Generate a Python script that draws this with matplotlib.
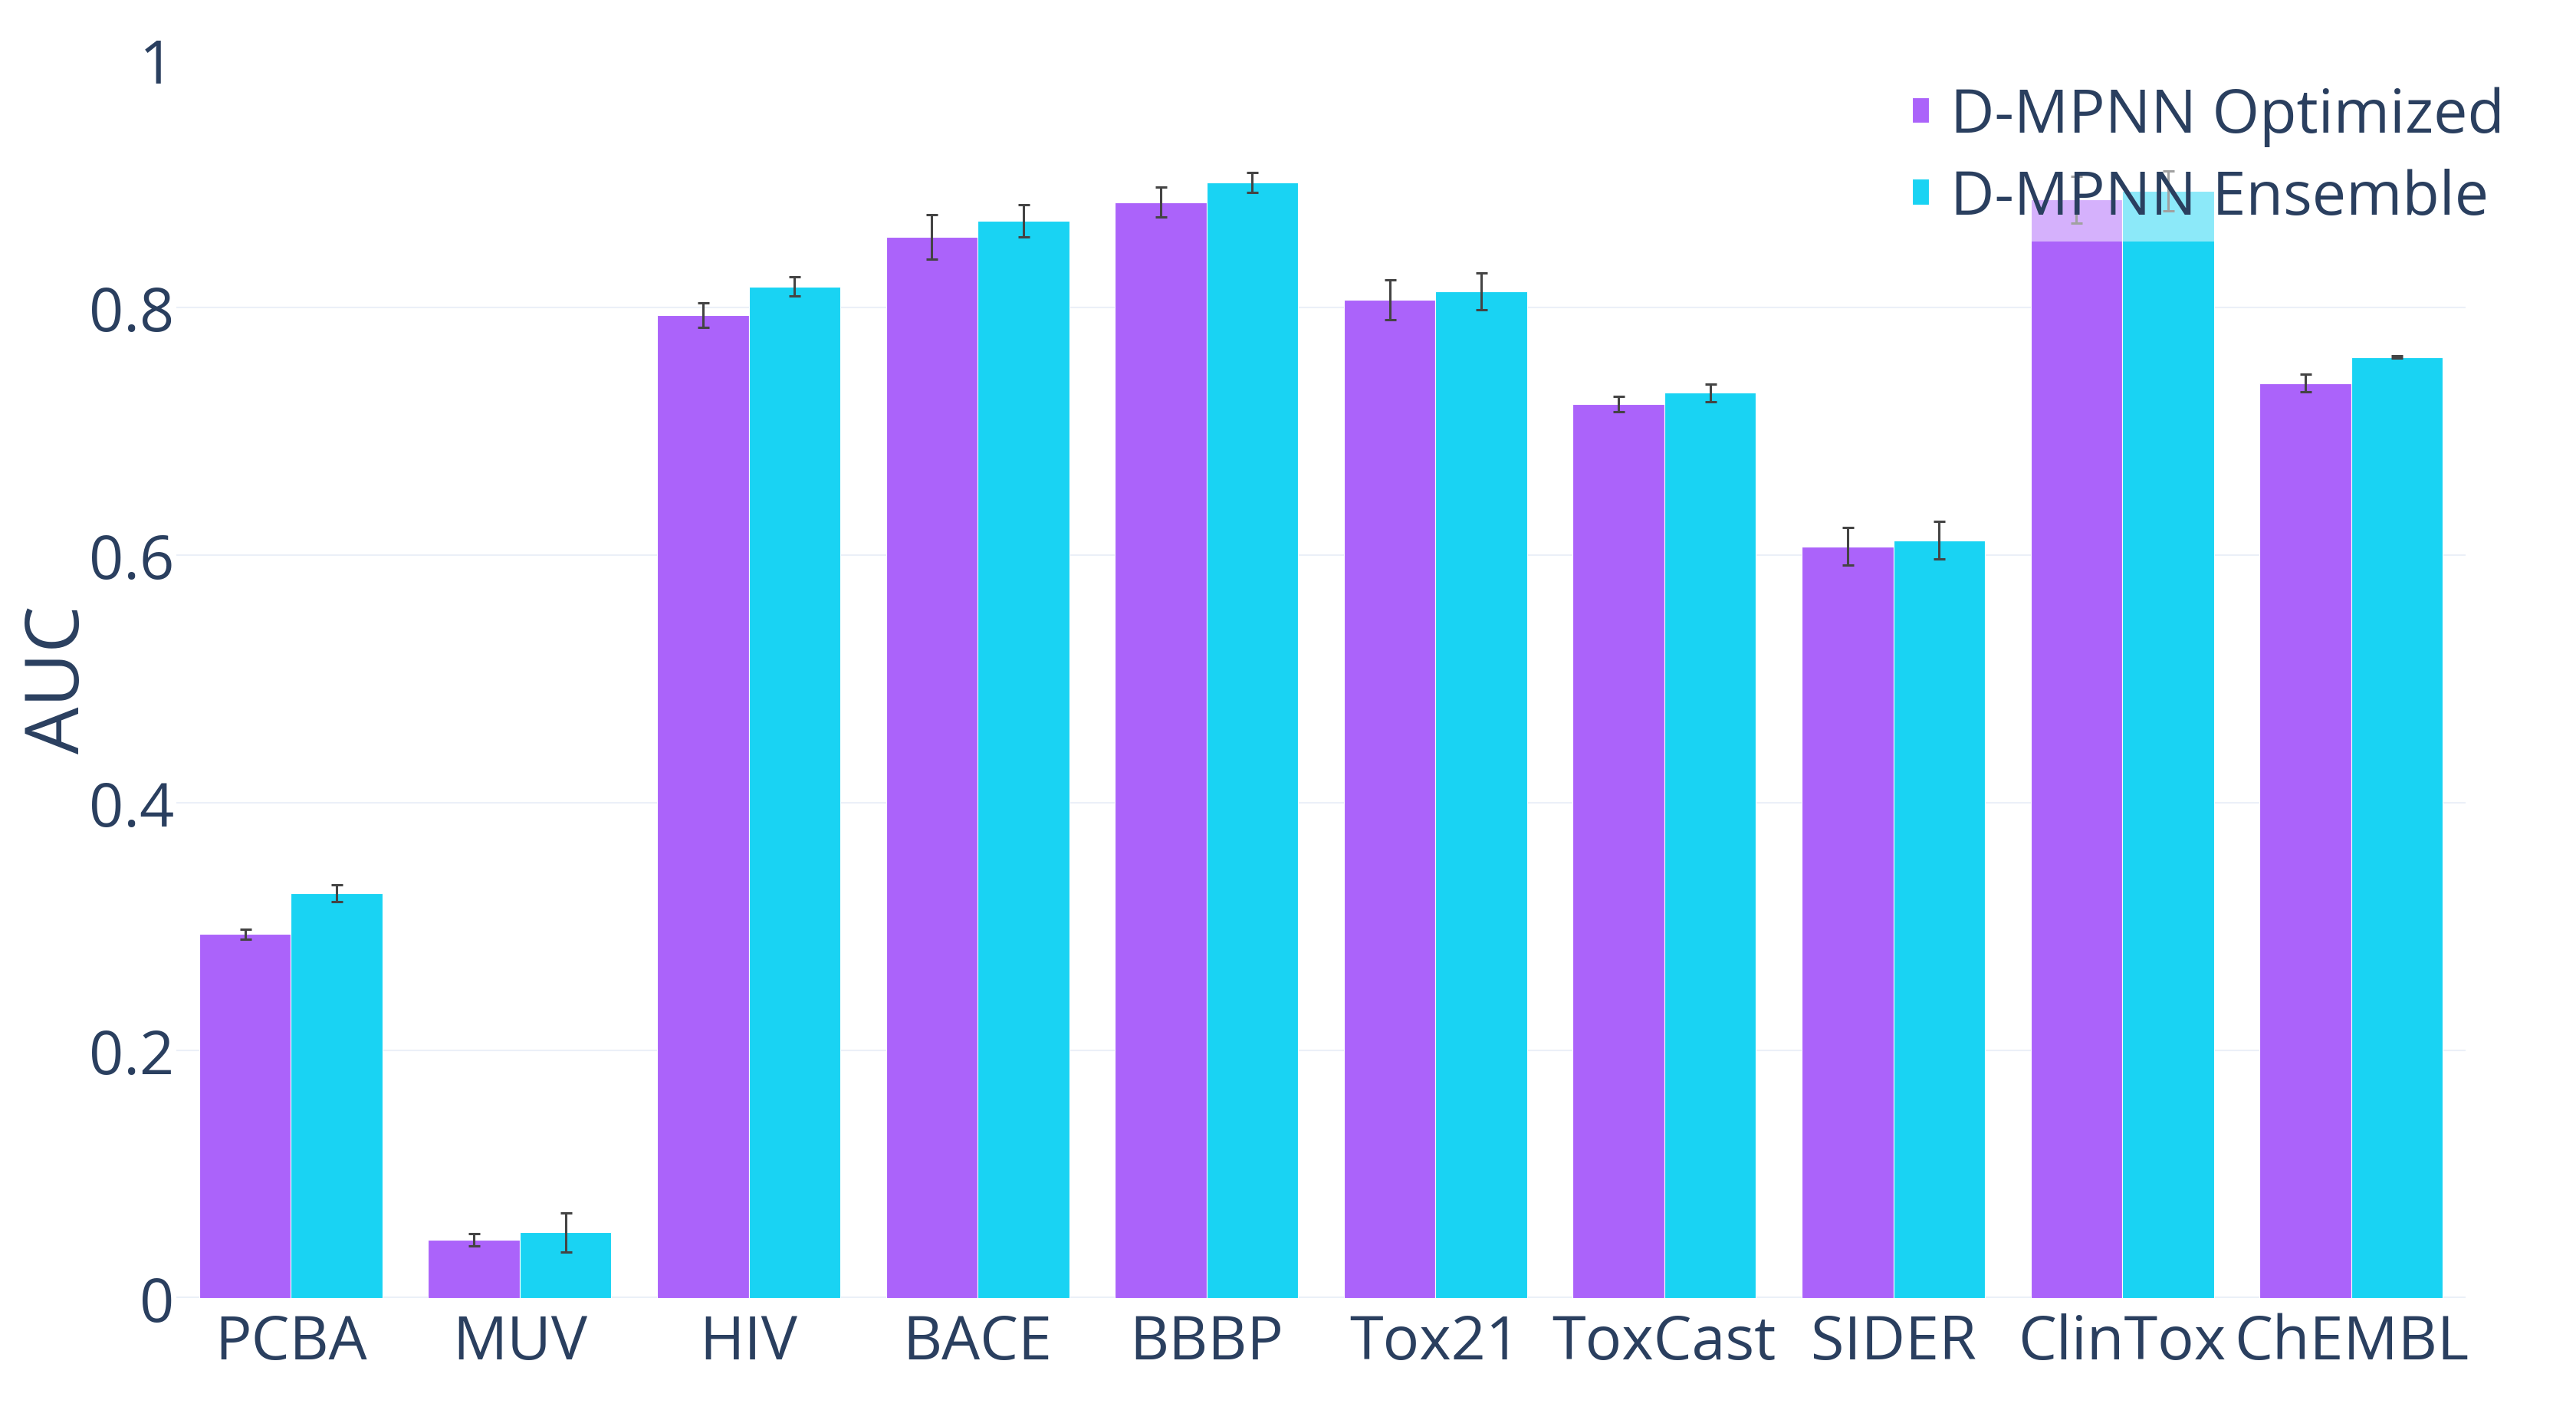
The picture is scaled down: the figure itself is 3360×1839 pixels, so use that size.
import numpy as np
import matplotlib
matplotlib.use("Agg")
import matplotlib.pyplot as plt

# data
datasets = ['PCBA', 'MUV', 'HIV', 'BACE', 'BBBP', 'Tox21', 'ToxCast', 'SIDER', 'ClinTox', 'ChEMBL']
opt_auc = [0.294, 0.047, 0.794, 0.857, 0.885, 0.806, 0.722, 0.607, 0.887, 0.739]
opt_err = [0.004, 0.005, 0.010, 0.018, 0.012, 0.016, 0.006, 0.015, 0.019, 0.007]
ens_auc = [0.327, 0.053, 0.817, 0.870, 0.901, 0.813, 0.731, 0.612, 0.894, 0.760]
ens_err = [0.007, 0.016, 0.008, 0.013, 0.008, 0.015, 0.007, 0.015, 0.016, 0.001]
series_names = ['D-MPNN Optimized', 'D-MPNN Ensemble']
yticks = [0, 0.2, 0.4, 0.6, 0.8, 1]
ytick_labels = ['0', '0.2', '0.4', '0.6', '0.8', '1']

purple = '#AB63FA'
cyan = '#19D3F3'
txt = '#2a3f5f'
grid = '#EBF0F8'

plt.rcParams['font.family'] = ['Open Sans', 'DejaVu Sans']

fig = plt.figure(figsize=(16.8, 9.2), dpi=200)
ax = fig.add_axes([0.06845, 0.07935, 0.8887, 0.87772])

x = np.arange(len(datasets))
w = 0.4
ax.bar(x - w/2, opt_auc, w, color=purple, edgecolor='white', linewidth=0.4,
       label=series_names[0], zorder=2)
ax.bar(x + w/2, ens_auc, w, color=cyan, edgecolor='white', linewidth=0.4,
       label=series_names[1], zorder=2)
ax.errorbar(x - w/2, opt_auc, yerr=opt_err, fmt='none', ecolor='#444444',
            elinewidth=1.1, capsize=2.7, capthick=1.1, zorder=3)
ax.errorbar(x + w/2, ens_auc, yerr=ens_err, fmt='none', ecolor='#444444',
            elinewidth=1.1, capsize=2.7, capthick=1.1, zorder=3)

ax.set_xlim(-0.5, len(datasets) - 0.5)
ax.set_ylim(0, 1)
ax.set_xticks(x)
ax.set_xticklabels(datasets)
ax.set_yticks(yticks)
ax.set_yticklabels(ytick_labels)
ax.tick_params(axis='both', length=0, labelsize=28.5, labelcolor=txt)
ax.tick_params(axis='x', pad=7)
ax.tick_params(axis='y', pad=1)

for s in ax.spines.values():
    s.set_visible(False)

ax.set_axisbelow(True)
ax.yaxis.grid(True, color=grid, linewidth=0.75)
glines = ax.yaxis.get_gridlines()
glines[0].set_linewidth(1.5)
glines[-1].set_visible(False)

ax.set_ylabel('AUC', fontsize=35, color=txt, va='center')
ax.yaxis.set_label_coords(-0.0510, 0.5)

leg = ax.legend(loc='upper left', bbox_to_anchor=(0.7372, 0.9478),
                bbox_transform=fig.transFigure, borderaxespad=0,
                fontsize=28.5, frameon=True, framealpha=0.5, facecolor='white',
                edgecolor='none', fancybox=False, handlelength=0.28,
                handleheight=0.28, handletextpad=0.35, labelspacing=0.35,
                borderpad=0.215)
for t in leg.get_texts():
    t.set_color(txt)

fig.savefig('out.png', dpi=200, facecolor='white')
